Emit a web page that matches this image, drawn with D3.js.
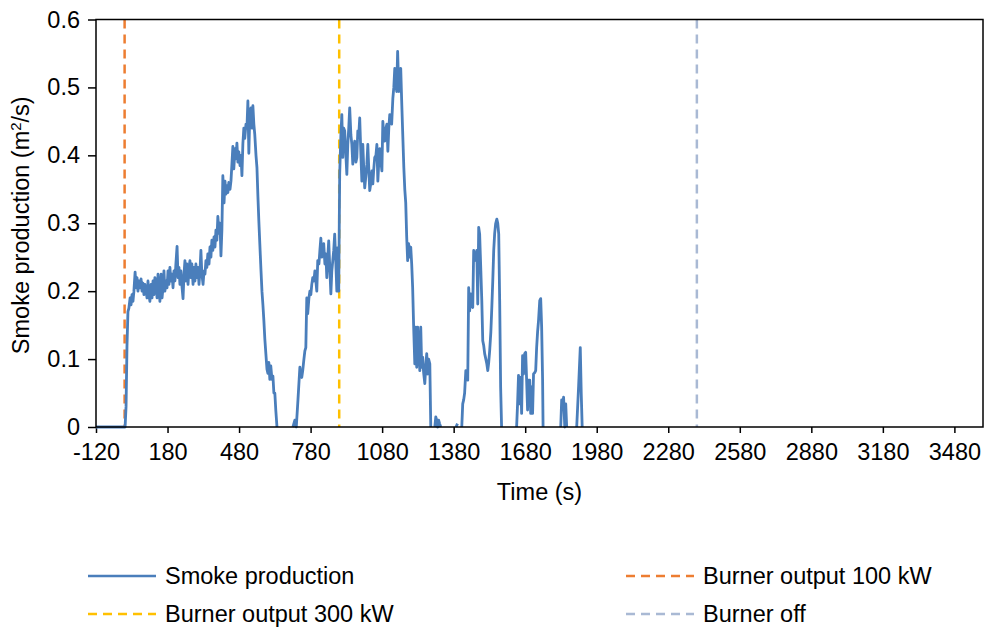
<!DOCTYPE html>
<html>
<head>
<meta charset="utf-8">
<script src="https://cdn.jsdelivr.net/npm/d3@7"></script>
<style>
body { margin: 0; background: #fff; }
text { font-family: Arial, "Liberation Sans", sans-serif; fill: #000; }
</style>
</head>
<body>
<div id="vis"></div>
<script>
// smoke production [time (s), m2/s], null = no data
const smoke = [
    [-120,0],[0,0],[2,0],[6,0.03],[10,0.12],[14,0.17],[18,0.175],[23,0.19],[27,0.18],[31,0.195],[35,0.185],[39,0.2],
    [44,0.228],[48,0.205],[52,0.22],[56,0.2],[60,0.215],[65,0.205],[69,0.218],[73,0.2],[77,0.212],[81,0.195],[85,0.21],
    [90,0.2],[94,0.19],[98,0.215],[102,0.195],[106,0.185],[111,0.21],[115,0.19],[119,0.215],[123,0.195],[127,0.22],
    [132,0.21],[136,0.19],[140,0.225],[144,0.205],[148,0.185],[153,0.225],[157,0.19],[161,0.205],[165,0.23],[169,0.2],
    [173,0.215],[178,0.205],[182,0.23],[186,0.21],[190,0.235],[194,0.215],[199,0.225],[203,0.205],[207,0.23],[211,0.215],
    [215,0.24],[220,0.266],[224,0.22],[228,0.235],[232,0.21],[236,0.23],[241,0.205],[245,0.189],[249,0.225],[253,0.245],
    [257,0.215],[261,0.24],[266,0.21],[270,0.235],[274,0.245],[278,0.22],[282,0.24],[287,0.21],[291,0.235],[295,0.215],
    [299,0.24],[303,0.22],[308,0.235],[312,0.21],[316,0.23],[320,0.26],[324,0.225],[329,0.21],[333,0.23],[337,0.225],
    [341,0.245],[345,0.235],[349,0.255],[354,0.24],[358,0.265],[362,0.25],[366,0.275],[370,0.26],[375,0.28],[379,0.265],
    [383,0.29],[387,0.275],[391,0.31],[396,0.285],[400,0.3],[404,0.252],[408,0.29],[412,0.37],[417,0.33],[421,0.362],
    [425,0.343],[429,0.355],[433,0.345],[437,0.36],[442,0.35],[446,0.362],[450,0.387],[454,0.413],[458,0.38],[463,0.41],
    [467,0.395],[471,0.418],[475,0.39],[479,0.405],[484,0.385],[488,0.4],[492,0.37],[496,0.417],[500,0.44],[504,0.425],
    [509,0.446],[513,0.44],[517,0.48],[521,0.403],[525,0.46],[530,0.47],[534,0.44],[538,0.473],[542,0.446],[546,0.43],
    [551,0.4],[555,0.382],[559,0.34],[563,0.303],[567,0.27],[572,0.23],[576,0.2],[580,0.18],[584,0.157],[588,0.13],
    [592,0.11],[597,0.085],[601,0.079],[605,0.095],[609,0.07],[613,0.09],[618,0.07],[622,0.075],[626,0.05],[630,0.05],
    [634,0.025],[639,0],[670,null],
    [706,0],[714,0.01],[720,0],[727,0.04],[735,0.088],[739,0.075],[743,0.073],[747,0.083],[752,0.1],[756,0.112],
    [760,0.117],[764,0.19],[768,0.167],[773,0.19],[777,0.2],[781,0.195],[785,0.21],[789,0.22],[794,0.215],[798,0.23],
    [802,0.215],[806,0.2],[810,0.245],[815,0.24],[819,0.26],[823,0.278],[827,0.25],[831,0.265],[835,0.27],[840,0.24],
    [844,0.255],[848,0.22],[852,0.25],[856,0.274],[861,0.23],[865,0.196],[869,0.23],[873,0.245],[877,0.26],[881,0.284],
    [886,0.24],[890,0.2],[894,0.264],[898,0.2],[902,0.372],[907,0.43],[911,0.46],[915,0.397],[919,0.44],[923,0.436],
    [928,0.4],[932,0.372],[936,0.416],[940,0.44],[944,0.47],[949,0.43],[953,0.416],[957,0.387],[961,0.41],[965,0.421],
    [970,0.39],[974,0.397],[978,0.436],[982,0.43],[986,0.455],[991,0.4],[995,0.362],[999,0.416],[1003,0.38],[1007,0.352],
    [1012,0.37],[1016,0.387],[1020,0.416],[1024,0.38],[1028,0.348],[1033,0.36],[1037,0.377],[1041,0.358],[1045,0.38],
    [1049,0.397],[1054,0.4],[1058,0.416],[1062,0.362],[1066,0.39],[1070,0.41],[1075,0.39],[1079,0.377],[1083,0.45],
    [1087,0.43],[1091,0.421],[1096,0.44],[1100,0.446],[1104,0.406],[1108,0.44],[1112,0.46],[1116,0.45],[1120,0.446],
    [1125,0.484],[1129,0.5],[1133,0.528],[1137,0.51],[1141,0.494],[1145,0.553],[1150,0.494],[1154,0.51],[1158,0.528],
    [1162,0.48],[1166,0.436],[1171,0.382],[1175,0.35],[1179,0.33],[1183,0.28],[1187,0.245],[1191,0.27],[1196,0.25],
    [1200,0.265],[1204,0.24],[1208,0.205],[1212,0.15],[1217,0.093],[1221,0.147],[1225,0.088],[1229,0.147],[1233,0.12],
    [1238,0.083],[1242,0.147],[1246,0.088],[1250,0.103],[1254,0.08],[1259,0.064],[1263,0.09],[1267,0.108],[1271,0.078],
    [1275,0.1],[1280,0.093],[1284,0],[1292,null],
    [1301,0],[1305,0.015],[1309,0.01],[1313,0],[1317,0.01],[1321,0.005],[1326,0],[1350,null],
    [1390,0],[1396,0.005],[1400,null],
    [1414,0],[1418,0.034],[1422,0.04],[1426,0.05],[1431,0.083],[1435,0.07],[1439,0.069],[1443,0.205],[1447,0.171],
    [1452,0.196],[1456,0.18],[1460,0.176],[1464,0.26],[1468,0.245],[1473,0.25],[1477,0.26],[1481,0.181],[1485,0.294],
    [1489,0.284],[1494,0.23],[1498,0.186],[1502,0.127],[1506,0.12],[1510,0.108],[1515,0.1],[1519,0.093],[1523,0.083],
    [1527,0.095],[1531,0.112],[1536,0.14],[1540,0.176],[1544,0.215],[1548,0.26],[1552,0.285],[1556,0.299],[1561,0.306],
    [1565,0.3],[1569,0.284],[1573,0.186],[1577,0.059],[1581,0],[1600,null],
    [1644,0],[1648,0.034],[1652,0.076],[1657,0.034],[1661,0.073],[1665,0.02],[1669,0.105],[1673,0.078],[1678,0.108],
    [1682,0.11],[1686,0.069],[1690,0.025],[1694,0.069],[1699,0.069],[1703,0.02],[1707,0.059],[1711,0.02],[1715,0.078],
    [1720,0.08],[1724,0.083],[1728,0.117],[1732,0.14],[1736,0.157],[1741,0.186],[1745,0.189],[1749,0.147],[1753,0.069],
    [1755,0],[1790,null],
    [1829,0],[1833,0.04],[1837,0.029],[1841,0.044],[1846,0],[1850,0.034],[1854,0],[1870,null],
    [1896,0],[1904,0.06],[1911,0.117],[1915,0.05],[1919,0]
];

const burnerTimes = [0, 900, 2400];
const burnerNames = ["Burner output 100 kW", "Burner output 300 kW", "Burner off"];
const burnerColors = ["#ed7d31", "#ffc000", "#a9b9d4"];
const smokeColor = "#4a7ebb";

const xTicks = d3.range(-120, 3600, 300);
const yTicks = [0, 0.1, 0.2, 0.3, 0.4, 0.5, 0.6];

var W = 985, H = 628;
var fontSize = "23.5px";

var svg = d3.select("#vis")
    .append("svg")
    .attr("width", W)
    .attr("height", H);

var x = d3.scaleLinear().domain([-120, 3600]).range([96, 983]);
var y = d3.scaleLinear().domain([0, 0.6]).range([427, 19.5]);

// axes
var xAxis = d3.axisBottom(x)
    .tickValues(xTicks)
    .tickSize(6)
    .tickPadding(10)
    .tickFormat(d => d);

var yAxis = d3.axisLeft(y)
    .tickValues(yTicks)
    .tickSize(8)
    .tickPadding(8)
    .tickFormat(d => d === 0 ? "0" : d3.format(".1f")(d));

var gx = svg.append("g")
    .attr("transform", "translate(0," + y(0) + ")")
    .call(xAxis);
var gy = svg.append("g")
    .attr("transform", "translate(" + x(-120) + ",0)")
    .call(yAxis);

[gx, gy].forEach(g => {
    g.select(".domain").remove();
    g.selectAll("line").attr("stroke", "#000").attr("stroke-width", 1.5);
    g.selectAll("text").attr("font-size", fontSize).attr("fill", "#000")
        .style("font-family", "Arial, 'Liberation Sans', sans-serif");
});

// burner lines
svg.selectAll("line.burner")
    .data(burnerTimes)
    .enter().append("line")
    .attr("class", "burner")
    .attr("x1", d => x(d)).attr("x2", d => x(d))
    .attr("y1", y(0.6)).attr("y2", y(0))
    .attr("stroke", (d, i) => burnerColors[i])
    .attr("stroke-width", 2.5)
    .attr("stroke-dasharray", "9,6");

// smoke line
var line = d3.line()
    .defined(d => d[1] !== null)
    .x(d => x(d[0]))
    .y(d => y(d[1]));

svg.append("path")
    .datum(smoke)
    .attr("d", line)
    .attr("fill", "none")
    .attr("stroke", smokeColor)
    .attr("stroke-width", 2.8)
    .attr("stroke-linejoin", "round");

// plot frame
svg.append("rect")
    .attr("x", x(-120)).attr("y", y(0.6))
    .attr("width", x(3600) - x(-120))
    .attr("height", y(0) - y(0.6))
    .attr("fill", "none")
    .attr("stroke", "#000")
    .attr("stroke-width", 1.5);

// axis titles
svg.append("text")
    .attr("x", (x(-120) + x(3600)) / 2)
    .attr("y", 500)
    .attr("text-anchor", "middle")
    .attr("font-size", fontSize)
    .text("Time (s)");

svg.append("text")
    .attr("transform", "translate(29," + (y(0.3) + 2) + ") rotate(-90)")
    .attr("text-anchor", "middle")
    .attr("font-size", fontSize)
    .html("Smoke production (m<tspan baseline-shift='super' font-size='15px'>2</tspan>/s)");

// legend
var legendItems = [
    { name: "Smoke production", color: smokeColor, dash: null, col: 0, row: 0 },
    { name: burnerNames[0], color: burnerColors[0], dash: "9,6", col: 1, row: 0 },
    { name: burnerNames[1], color: burnerColors[1], dash: "9,6", col: 0, row: 1 },
    { name: burnerNames[2], color: burnerColors[2], dash: "9,6", col: 1, row: 1 }
];

var legend = svg.selectAll(".legend")
    .data(legendItems)
    .enter().append("g")
    .attr("class", "legend")
    .attr("transform", d => "translate(" + (d.col ? 626 : 88) + "," + (576 + d.row * 38) + ")");

legend.append("line")
    .attr("x1", 0).attr("x2", 68)
    .attr("stroke", d => d.color)
    .attr("stroke-width", 2.5)
    .attr("stroke-dasharray", d => d.dash);

legend.append("text")
    .attr("x", 77)
    .attr("dy", "0.35em")
    .attr("font-size", fontSize)
    .text(d => d.name);
</script>
</body>
</html>
